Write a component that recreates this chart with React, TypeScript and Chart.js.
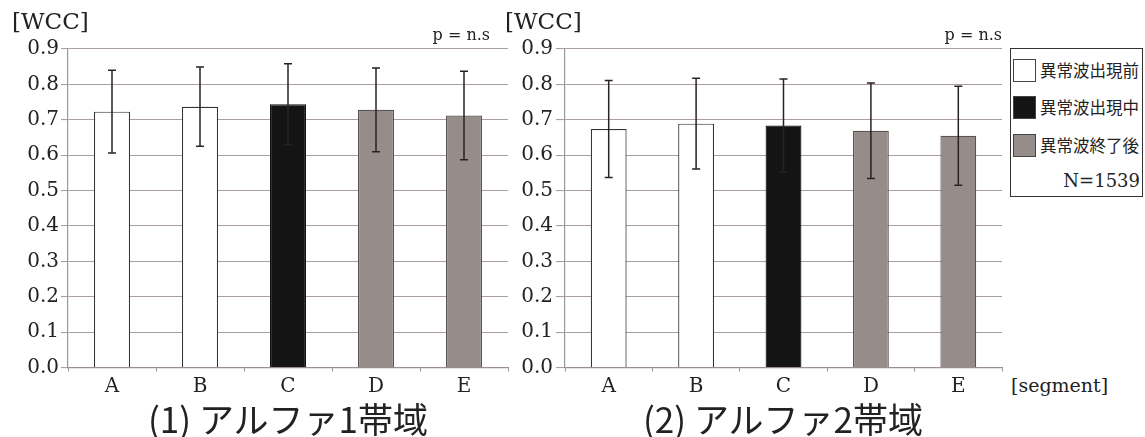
import React, { useEffect, useRef } from "react";
import { Chart, registerables } from "chart.js";

Chart.register(...registerables);

const categories = ["A", "B", "C", "D", "E"];
const alpha1Means = [0.723, 0.737, 0.744, 0.728, 0.712];
const alpha1Errors = [0.117, 0.112, 0.114, 0.118, 0.125];
const alpha2Means = [0.674, 0.689, 0.684, 0.669, 0.655];
const alpha2Errors = [0.137, 0.128, 0.131, 0.135, 0.14];
const barFills = ["#ffffff", "#ffffff", "#141414", "#968d8b", "#968d8b"];
const barBorders = ["#333333", "#333333", "#111111", "#5a5454", "#5a5454"];
const legendLabels = ["異常波出現前", "異常波出現中", "異常波終了後"];
const legendFills = ["#ffffff", "#141414", "#968d8b"];
const yMin = 0;
const yMax = 0.9;
const yStep = 0.1;

const serifFamily = "'DejaVu Serif', 'Liberation Serif', serif";

const errorBarPlugin = {
  id: "errorBars",
  afterDatasetsDraw(chart: any, _args: any, opts: any) {
    const errs: number[] = opts.errors || [];
    const meta = chart.getDatasetMeta(0);
    const yScale = chart.scales.y;
    const ctx = chart.ctx;
    const vals = chart.data.datasets[0].data as number[];
    ctx.save();
    ctx.strokeStyle = "#2a2222";
    ctx.lineWidth = 1.5;
    meta.data.forEach((bar: any, i: number) => {
      const v = vals[i];
      const e = errs[i] || 0;
      const yt = yScale.getPixelForValue(v + e);
      const yb = yScale.getPixelForValue(v - e);
      const x = bar.x;
      const cap = 4;
      ctx.beginPath();
      ctx.moveTo(x, yt);
      ctx.lineTo(x, yb);
      ctx.moveTo(x - cap, yt);
      ctx.lineTo(x + cap, yt);
      ctx.moveTo(x - cap, yb);
      ctx.lineTo(x + cap, yb);
      ctx.stroke();
    });
    ctx.restore();
  },
};

type PanelProps = {
  left: number;
  width: number;
  means: number[];
  errors: number[];
  axisWidth: number;
  padRight: number;
  tickLen: number;
  tickPad: number;
};

function Panel({ left, width, means, errors, axisWidth, padRight, tickLen, tickPad }: PanelProps) {
  const ref = useRef<HTMLCanvasElement | null>(null);
  useEffect(() => {
    if (!ref.current) return;
    const chart = new Chart(ref.current, {
      type: "bar",
      data: {
        labels: categories,
        datasets: [
          {
            data: means,
            backgroundColor: barFills,
            borderColor: barBorders,
            borderWidth: 1.2,
            barPercentage: 0.41,
            categoryPercentage: 1,
          },
        ],
      },
      options: {
        animation: false,
        responsive: false,
        maintainAspectRatio: false,
        layout: { padding: { top: 49, left: 0, right: padRight, bottom: 0 } },
        plugins: {
          legend: { display: false },
          tooltip: { enabled: false },
          errorBars: { errors },
        } as any,
        scales: {
          x: {
            afterFit: (axis: any) => {
              axis.height = 32.5;
            },
            grid: {
              display: true,
              drawOnChartArea: false,
              drawTicks: true,
              tickLength: 4,
              color: "#9a8e8e",
              offset: true,
            },
            border: { display: true, color: "#9a8e8e", width: 1.2 },
            ticks: {
              color: "#222",
              padding: 3,
              font: { family: serifFamily, size: 20 },
            },
          },
          y: {
            min: yMin,
            max: yMax,
            afterFit: (axis: any) => {
              axis.width = axisWidth;
            },
            grid: {
              color: "#aa9e9e",
              lineWidth: 1.1,
              tickLength: tickLen,
              drawTicks: true,
            },
            border: { display: true, color: "#999", width: 1.2 },
            ticks: {
              stepSize: yStep,
              padding: tickPad,
              color: "#222",
              font: { family: serifFamily, size: 20 },
              callback: (v: any) => Number(v).toFixed(1),
            },
          },
        },
      },
      plugins: [errorBarPlugin as any],
    });
    return () => chart.destroy();
  }, []);
  return (
    <canvas
      ref={ref}
      width={width}
      height={400}
      style={{ position: "absolute", left, top: 0, width, height: 400 }}
    />
  );
}

const serif = serifFamily;
const cjk = "'Noto Sans CJK JP', 'Noto Sans', sans-serif";

export default function App() {
  const abs = (s: React.CSSProperties): React.CSSProperties => ({ position: "absolute", whiteSpace: "nowrap", ...s });
  return (
    <div
      style={{
        position: "absolute",
        left: 0,
        top: 0,
        width: 1145,
        height: 437,
        background: "#fff",
        overflow: "hidden",
      }}
    >
      <Panel left={0} width={512} means={alpha1Means} errors={alpha1Errors} axisWidth={68} padRight={4} tickLen={7} tickPad={2} />
      <Panel left={520} width={490} means={alpha2Means} errors={alpha2Errors} axisWidth={45} padRight={8} tickLen={9} tickPad={3} />

      <div style={abs({ left: 12, top: 10, fontFamily: serif, fontSize: 23, lineHeight: 1, color: "#222" })}>[WCC]</div>
      <div style={abs({ left: 505, top: 10, fontFamily: serif, fontSize: 23, lineHeight: 1, color: "#222" })}>[WCC]</div>
      <div style={abs({ left: 390, width: 100, top: 27, textAlign: "right", fontFamily: serif, fontSize: 16, lineHeight: 1, color: "#222" })}>p = n.s</div>
      <div style={abs({ left: 902, width: 100, top: 27, textAlign: "right", fontFamily: serif, fontSize: 16, lineHeight: 1, color: "#222" })}>p = n.s</div>

      <div style={abs({ left: 1011, top: 376, fontFamily: serif, fontSize: 19, lineHeight: 1, color: "#222" })}>[segment]</div>

      <div style={abs({ left: 88, width: 400, top: 400, textAlign: "center", fontFamily: cjk, fontSize: 35, lineHeight: 1, color: "#222" })}>(1) アルファ1帯域</div>
      <div style={abs({ left: 583, width: 400, top: 400, textAlign: "center", fontFamily: cjk, fontSize: 35, lineHeight: 1, color: "#222" })}>(2) アルファ2帯域</div>

      <div
        style={abs({
          left: 1010,
          top: 48,
          width: 131,
          height: 147,
          border: "1.5px solid #333",
          background: "#fff",
        })}
      >
        {legendLabels.map((lab, i) => (
          <div key={lab} style={abs({ left: 2, top: 9 + i * 37.5, height: 24, display: "flex", alignItems: "center" })}>
            <span
              style={{
                display: "inline-block",
                width: 23,
                height: 23,
                background: legendFills[i],
                border: "1.5px solid #444",
                boxSizing: "border-box",
                marginRight: 4,
              }}
            />
            <span style={{ fontFamily: cjk, fontSize: 16.5, lineHeight: 1, color: "#222" }}>{lab}</span>
          </div>
        ))}
        <div style={abs({ right: 2, top: 123, fontFamily: serif, fontSize: 18, lineHeight: 1, color: "#222" })}>N=1539</div>
      </div>
    </div>
  );
}
